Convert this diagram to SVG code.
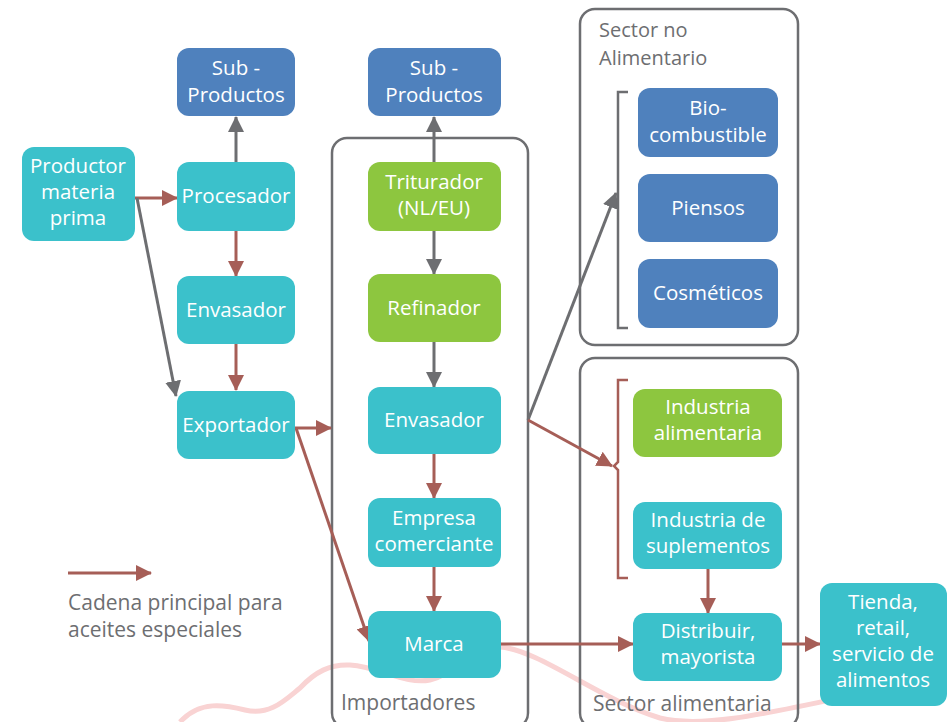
<svg xmlns="http://www.w3.org/2000/svg" width="948" height="722" viewBox="0 0 948 722">
<defs>
<style>
.n rect{rx:12;ry:12}
.teal{fill:#3bc1cb}
.green{fill:#8dc63f}
.blue{fill:#4f81bd}
.t{font-family:"Open Sans","Noto Sans",sans-serif;font-size:20.5px;fill:#ffffff;text-anchor:middle}
.lbl{font-family:"Open Sans","Noto Sans",sans-serif;font-size:21px;fill:#6d6e71}
.box{fill:none;stroke:#6d6e71;stroke-width:2.5}
.r{stroke:#a65e57;stroke-width:3;fill:none;marker-end:url(#ar)}
.g{stroke:#6d6e71;stroke-width:3;fill:none;marker-end:url(#ag)}
</style>
<marker id="ar" markerUnits="userSpaceOnUse" markerWidth="16" markerHeight="16" viewBox="0 0 16 16" refX="15" refY="8" orient="auto"><path d="M0,0 L16,8 L0,16 Z" fill="#a65e57"/></marker>
<marker id="ag" markerUnits="userSpaceOnUse" markerWidth="16" markerHeight="16" viewBox="0 0 16 16" refX="15" refY="8" orient="auto"><path d="M0,0 L16,8 L0,16 Z" fill="#6d6e71"/></marker>
</defs>
<rect width="948" height="722" fill="#ffffff"/>
<path d="M180,722 C200,700 225,705 245,710 C270,716 285,700 300,688 C315,672 330,664 350,665 C380,667 405,685 430,680 C455,675 470,645 500,647 C540,650 600,700 660,718 C700,728 760,715 840,698" fill="none" stroke="#f9d3d3" stroke-width="5"/>

<g id="box-importadores"><rect class="box" x="332" y="138" width="196" height="590" rx="15"/><text class="lbl" x="341" y="710">Importadores</text></g>
<g id="box-no-alimentario"><rect class="box" x="580" y="9" width="218" height="336" rx="15"/><text class="lbl" x="599" y="37" style="font-size:20px">Sector no</text><text class="lbl" x="599" y="65" style="font-size:20px">Alimentario</text></g>
<g id="box-alimentaria"><rect class="box" x="580" y="358" width="218" height="370" rx="15"/><text class="lbl" x="593" y="711">Sector alimentaria</text></g>

<g id="connectors">
<path class="g" d="M236,162 V117"/>
<path class="r" d="M236,231 V276"/>
<path class="r" d="M236,344 V390"/>
<path class="r" d="M135,198 H177"/>
<path class="g" d="M137,198 L176,396"/>
<path class="r" d="M295,428 H331"/>
<path class="r" d="M296,428 L369,641"/>
<path class="g" d="M434,162 V117"/>
<path class="g" d="M434,231 V274"/>
<path class="g" d="M434,342 V387"/>
<path class="r" d="M434,454 V498"/>
<path class="r" d="M434,567 V611"/>
<path class="r" d="M501,644 H633"/>
<path class="g" d="M528,420 L616,193"/>
<path class="r" d="M528,420 L612,466"/>
<path d="M628,92 H618 V328 H628" fill="none" stroke="#6d6e71" stroke-width="2.5"/>
<path d="M628,380 H618 V462 L614,466 L618,470 V578 H628" fill="none" stroke="#a65e57" stroke-width="2.5"/>
<path class="r" d="M708,569 V613"/>
<path class="r" d="M782,644 H820"/>
<path class="r" d="M68,573 H151"/>
</g>

<g id="sub1" class="n"><rect class="blue" x="177" y="48" width="118" height="68"/><text class="t" x="236" y="75">Sub -</text><text class="t" x="236" y="102">Productos</text></g>
<g id="productor" class="n"><rect class="teal" x="22" y="147" width="113" height="94"/><text class="t" x="78" y="173">Productor</text><text class="t" x="78" y="199">materia</text><text class="t" x="78" y="225">prima</text></g>
<g id="procesador" class="n"><rect class="teal" x="177" y="162" width="118" height="69"/><text class="t" x="236" y="203">Procesador</text></g>
<g id="envasador1" class="n"><rect class="teal" x="177" y="276" width="118" height="68"/><text class="t" x="236" y="317">Envasador</text></g>
<g id="exportador" class="n"><rect class="teal" x="177" y="391" width="118" height="68"/><text class="t" x="236" y="432">Exportador</text></g>

<g id="sub2" class="n"><rect class="blue" x="368" y="48" width="133" height="68"/><text class="t" x="434" y="75">Sub -</text><text class="t" x="434" y="102">Productos</text></g>
<g id="triturador" class="n"><rect class="green" x="368" y="162" width="133" height="69"/><text class="t" x="434" y="189">Triturador</text><text class="t" x="434" y="215">(NL/EU)</text></g>
<g id="refinador" class="n"><rect class="green" x="368" y="274" width="133" height="68"/><text class="t" x="434" y="315">Refinador</text></g>
<g id="envasador2" class="n"><rect class="teal" x="368" y="387" width="133" height="67"/><text class="t" x="434" y="427">Envasador</text></g>
<g id="empresa" class="n"><rect class="teal" x="368" y="498" width="133" height="69"/><text class="t" x="434" y="525">Empresa</text><text class="t" x="434" y="551">comerciante</text></g>
<g id="marca" class="n"><rect class="teal" x="368" y="611" width="133" height="67"/><text class="t" x="434" y="651">Marca</text></g>

<g id="biocombustible" class="n"><rect class="blue" x="638" y="88" width="140" height="69"/><text class="t" x="708" y="115">Bio-</text><text class="t" x="708" y="142">combustible</text></g>
<g id="piensos" class="n"><rect class="blue" x="638" y="174" width="140" height="68"/><text class="t" x="708" y="215">Piensos</text></g>
<g id="cosmeticos" class="n"><rect class="blue" x="638" y="259" width="140" height="69"/><text class="t" x="708" y="300">Cosméticos</text></g>

<g id="ind-alimentaria" class="n"><rect class="green" x="633" y="389" width="149" height="68"/><text class="t" x="708" y="414">Industria</text><text class="t" x="708" y="440">alimentaria</text></g>
<g id="ind-suplementos" class="n"><rect class="teal" x="633" y="502" width="149" height="67"/><text class="t" x="708" y="527">Industria de</text><text class="t" x="708" y="553">suplementos</text></g>
<g id="distribuir" class="n"><rect class="teal" x="633" y="613" width="149" height="68"/><text class="t" x="708" y="638">Distribuir,</text><text class="t" x="708" y="664">mayorista</text></g>
<g id="tienda" class="n"><rect class="teal" x="820" y="583" width="127" height="123"/><text class="t" x="883" y="609">Tienda,</text><text class="t" x="883" y="635">retail,</text><text class="t" x="883" y="661">servicio de</text><text class="t" x="883" y="687">alimentos</text></g>

<g id="legend"><text class="lbl" x="68" y="610">Cadena principal para</text><text class="lbl" x="68" y="637">aceites especiales</text></g>
</svg>
